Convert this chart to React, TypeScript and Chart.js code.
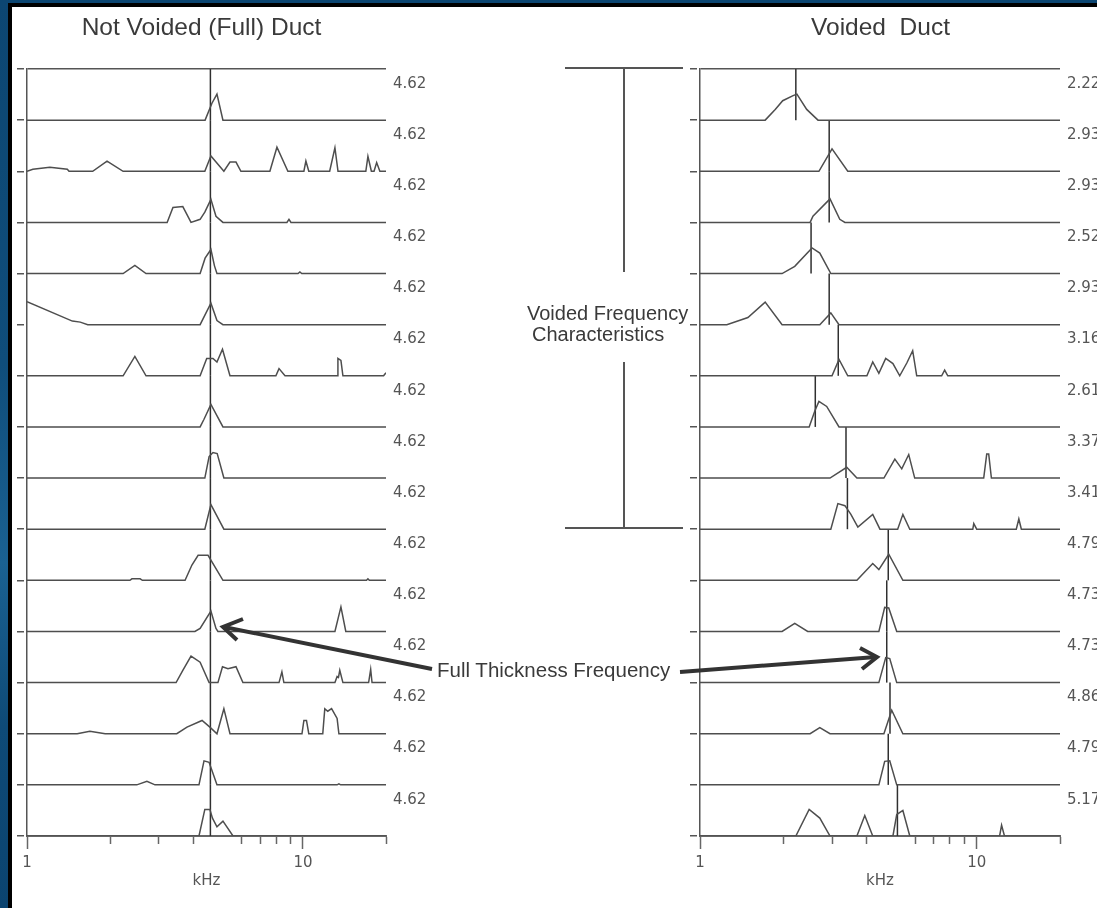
import React, { useEffect, useRef } from 'react';
import { Chart, registerables } from 'chart.js';

Chart.register(...registerables);

type Pt = [number, number];

// ---------- axis data ----------
const xMin = 1;
const xMax = 20;
const xTickValues = [1, 2, 3, 4, 6, 7, 8, 9, 10, 20];
const xMajorTicks = [1, 10];
const xTickLabels = ['1', '', '', '', '', '', '', '', '10', ''];
const xAxisTitle = 'kHz';

// ---------- Not Voided (Full) Duct: peak-frequency labels (kHz) ----------
const fullPeakLabels = ['4.62', '4.62', '4.62', '4.62', '4.62', '4.62', '4.62', '4.62', '4.62', '4.62', '4.62', '4.62', '4.62', '4.62', '4.62'];

// spectra: [frequency kHz, relative amplitude]
const full01: Pt[] = [[1, 0], [4.42, 0], [4.68, 0.33], [4.88, 0.51], [5.13, 0], [20, 0]];
const full02: Pt[] = [[1, 0], [1.05, 0.04], [1.21, 0.08], [1.4, 0.04], [1.42, 0], [1.73, 0], [1.95, 0.2], [2.23, 0], [4.41, 0], [4.64, 0.3], [5.17, 0], [5.44, 0.18], [5.72, 0.18], [5.96, 0], [7.59, 0], [8.05, 0.47], [8.82, 0], [10.08, 0], [10.25, 0.2], [10.5, 0], [12.5, 0], [13.06, 0.46], [13.4, 0], [16.9, 0], [17.2, 0.29], [17.7, 0], [18.1, 0], [18.5, 0.17], [19.0, 0], [20, 0]];
const full03: Pt[] = [[1, 0], [3.22, 0], [3.38, 0.29], [3.67, 0.31], [3.93, 0], [4.24, 0.06], [4.41, 0.2], [4.64, 0.45], [4.84, 0.12], [5.13, 0], [8.75, 0], [8.9, 0.06], [9.05, 0], [20, 0]];
const full04: Pt[] = [[1, 0], [2.23, 0], [2.46, 0.16], [2.7, 0], [4.24, 0], [4.42, 0.3], [4.64, 0.47], [4.78, 0.15], [4.88, 0], [9.6, 0], [9.75, 0.03], [9.9, 0], [20, 0]];
const full05: Pt[] = [[1, 0.45], [1.46, 0.07], [1.56, 0.05], [1.66, 0], [4.24, 0], [4.64, 0.42], [4.88, 0.08], [5.13, 0], [20, 0]];
const full06: Pt[] = [[1, 0], [2.23, 0], [2.46, 0.38], [2.7, 0], [4.24, 0], [4.48, 0.34], [4.72, 0.34], [4.88, 0.27], [5.11, 0.52], [5.44, 0], [7.98, 0], [8.19, 0.14], [8.61, 0], [13.3, 0], [13.39, 0.34], [13.73, 0.3], [13.96, 0], [19.6, 0], [20, 0.06]];
const full07: Pt[] = [[1, 0], [4.24, 0], [4.38, 0.15], [4.64, 0.44], [5.13, 0], [20, 0]];
const full08: Pt[] = [[1, 0], [4.41, 0], [4.57, 0.42], [4.72, 0.5], [4.89, 0.48], [5.17, 0], [20, 0]];
const full09: Pt[] = [[1, 0], [4.41, 0], [4.64, 0.48], [5.17, 0], [20, 0]];
const full10: Pt[] = [[1, 0], [2.36, 0], [2.4, 0.03], [2.57, 0.03], [2.62, 0], [3.74, 0], [3.96, 0.3], [4.17, 0.49], [4.53, 0.49], [5.13, 0], [17.0, 0], [17.2, 0.03], [17.4, 0], [20, 0]];
const full11: Pt[] = [[1, 0], [4.06, 0], [4.24, 0.06], [4.64, 0.4], [4.84, 0.06], [4.92, 0], [13.06, 0], [13.73, 0.48], [14.3, 0], [20, 0]];
const full12: Pt[] = [[1, 0], [3.47, 0], [3.67, 0.24], [3.93, 0.52], [4.24, 0.4], [4.57, 0], [4.92, 0], [5.11, 0.31], [5.35, 0.27], [5.72, 0.31], [6.06, 0], [8.19, 0], [8.39, 0.21], [8.53, 0], [13.06, 0], [13.3, 0.12], [13.45, 0.1], [13.6, 0.24], [13.96, 0], [17.3, 0], [17.6, 0.26], [17.8, 0], [20, 0]];
const full13: Pt[] = [[1, 0], [1.52, 0], [1.69, 0.05], [1.92, 0], [3.49, 0], [3.8, 0.13], [4.31, 0.26], [4.6, 0.13], [4.88, 0], [5.17, 0.49], [5.44, 0], [9.92, 0], [10.08, 0.26], [10.3, 0.26], [10.5, 0], [11.8, 0], [12.0, 0.49], [12.3, 0.44], [12.7, 0.49], [13.3, 0.3], [13.5, 0], [20, 0]];
const full14: Pt[] = [[1, 0], [2.5, 0], [2.72, 0.07], [2.91, 0], [4.2, 0], [4.38, 0.47], [4.57, 0.44], [4.88, 0], [13.3, 0], [13.5, 0.02], [13.7, 0], [20, 0]];
const full15: Pt[] = [[1, 0], [4.2, 0], [4.41, 0.52], [4.6, 0.52], [4.7, 0.35], [4.88, 0.18], [5.13, 0.29], [5.58, 0], [20, 0]];

// ---------- Voided Duct ----------
const voidedPeakLabels = ['2.22', '2.93', '2.93', '2.52', '2.93', '3.16', '2.61', '3.37', '3.41', '4.79', '4.73', '4.73', '4.86', '4.79', '5.17'];

const void01: Pt[] = [[1, 0], [1.72, 0], [1.87, 0.21], [1.99, 0.38], [2.17, 0.48], [2.24, 0.51], [2.43, 0.21], [2.67, 0], [20, 0]];
const void02: Pt[] = [[1, 0], [2.69, 0], [3.0, 0.44], [3.42, 0], [20, 0]];
const void03: Pt[] = [[1, 0], [2.5, 0], [2.56, 0.12], [2.95, 0.46], [3.2, 0.06], [3.34, 0], [20, 0]];
const void04: Pt[] = [[1, 0], [1.98, 0], [2.2, 0.14], [2.54, 0.5], [2.71, 0.4], [2.97, 0], [20, 0]];
const void05: Pt[] = [[1, 0], [1.25, 0], [1.49, 0.14], [1.72, 0.44], [1.98, 0], [2.71, 0], [2.97, 0.23], [3.18, 0], [20, 0]];
const void06: Pt[] = [[1, 0], [3.0, 0], [3.18, 0.32], [3.42, 0], [4.01, 0], [4.21, 0.27], [4.43, 0.05], [4.69, 0.34], [4.98, 0.24], [5.27, 0], [5.59, 0.25], [5.87, 0.49], [6.07, 0], [7.47, 0], [7.66, 0.11], [7.86, 0], [20, 0]];
const void07: Pt[] = [[1, 0], [2.48, 0], [2.6, 0.31], [2.69, 0.5], [2.87, 0.4], [3.18, 0], [20, 0]];
const void08: Pt[] = [[1, 0], [2.95, 0], [3.39, 0.21], [3.69, 0], [4.62, 0], [5.06, 0.37], [5.36, 0.18], [5.68, 0.46], [5.97, 0], [10.6, 0], [10.87, 0.47], [11.05, 0.47], [11.3, 0], [20, 0]];
const void09: Pt[] = [[1, 0], [2.97, 0], [3.15, 0.5], [3.34, 0.46], [3.51, 0.29], [3.72, 0.04], [4.21, 0.29], [4.47, 0], [5.18, 0], [5.41, 0.29], [5.73, 0], [9.68, 0], [9.76, 0.11], [10.0, 0], [13.9, 0], [14.2, 0.2], [14.5, 0], [20, 0]];
const void10: Pt[] = [[1, 0], [3.69, 0], [4.21, 0.33], [4.43, 0.21], [4.81, 0.51], [5.41, 0], [20, 0]];
const void11: Pt[] = [[1, 0], [1.98, 0], [2.2, 0.16], [2.45, 0], [4.43, 0], [4.65, 0.47], [4.81, 0.46], [5.14, 0], [20, 0]];
const void12: Pt[] = [[1, 0], [4.43, 0], [4.69, 0.49], [4.85, 0.47], [5.14, 0], [20, 0]];
const void13: Pt[] = [[1, 0], [2.5, 0], [2.71, 0.12], [2.95, 0], [4.62, 0], [4.93, 0.46], [5.41, 0], [20, 0]];
const void14: Pt[] = [[1, 0], [4.43, 0], [4.65, 0.46], [4.85, 0.47], [5.14, 0], [20, 0]];
const void15: Pt[] = [[1, 0], [2.22, 0], [2.48, 0.52], [2.71, 0.35], [2.95, 0], [3.69, 0], [3.94, 0.4], [4.21, 0], [4.98, 0], [5.14, 0.42], [5.41, 0.5], [5.73, 0], [12.1, 0], [12.3, 0.21], [12.6, 0], [20, 0]];

const fullRows = [full01, full02, full03, full04, full05, full06, full07, full08, full09, full10, full11, full12, full13, full14, full15];
const voidedRows = [void01, void02, void03, void04, void05, void06, void07, void08, void09, void10, void11, void12, void13, void14, void15];

// ---------- text ----------
const titleFull = 'Not Voided (Full) Duct';
const titleVoided = 'Voided  Duct';
const bracketText = ['Voided Frequency', 'Characteristics'];
const arrowText = 'Full Thickness Frequency';

// ---------- styles ----------
const TRACE = '#4e4e4e';
const PEAKLINE = '#303030';
const AXIS = '#666666';
const LABEL = '#555555';
const TICK_FONT = { family: 'DejaVu Sans', size: 15 };
const CANVAS_H = 908;

type ChartProps = {
  rows: Pt[][];
  peaks: string[];
  left: number;
  width: number;
  labelAxisWidth: number;
};

function FreqChart({ rows, peaks, left, width, labelAxisWidth }: ChartProps) {
  const ref = useRef<HTMLCanvasElement>(null);

  useEffect(() => {
    if (!ref.current) return;
    const n = rows.length;
    const datasets: any[] = [];
    rows.forEach((row, i) => {
      const base = n - 1 - i;
      datasets.push({
        data: row.map(([f, a]) => ({ x: f, y: base + a })),
        borderColor: TRACE,
        borderWidth: 1.5,
        pointRadius: 0,
        tension: 0,
        fill: false,
      });
    });
    peaks.forEach((p, i) => {
      const base = n - 1 - i;
      const f = parseFloat(p);
      datasets.push({
        data: [{ x: f, y: base }, { x: f, y: base + 1 }],
        borderColor: PEAKLINE,
        borderWidth: 1.5,
        pointRadius: 0,
        fill: false,
      });
    });

    const chart = new Chart(ref.current, {
      type: 'line',
      data: { datasets },
      options: {
        animation: false,
        responsive: false,
        maintainAspectRatio: false,
        events: [],
        layout: { padding: { top: 69, left: 12, right: 0, bottom: 0 } },
        plugins: {
          legend: { display: false },
          tooltip: { enabled: false },
          title: { display: false },
        },
        scales: {
          x: {
            type: 'logarithmic',
            min: xMin,
            max: xMax,
            position: 'bottom',
            afterFit: (s: any) => { s.height = 72; },
            afterBuildTicks: (s: any) => { s.ticks = xTickValues.map((v) => ({ value: v, major: xMajorTicks.includes(v) })); },
            border: { display: true, color: AXIS, width: 2 },
            grid: {
              drawOnChartArea: false,
              drawTicks: true,
              tickLength: 13,
              tickWidth: 1.5,
              tickColor: AXIS,
              tickBorderDash: (ctx: any) => (ctx.tick && xMajorTicks.includes(ctx.tick.value) ? [] : [7, 40]),
            },
            ticks: {
              autoSkip: false,
              maxRotation: 0,
              padding: 5,
              color: LABEL,
              font: TICK_FONT,
              callback: (_v: any, idx: number) => xTickLabels[idx],
            },
            title: {
              display: true,
              text: xAxisTitle,
              color: LABEL,
              font: TICK_FONT,
              padding: { top: 0, bottom: 18 },
            },
          },
          y: {
            type: 'linear',
            min: 0,
            max: n,
            position: 'left',
            afterFit: (s: any) => { s.width = 15; },
            border: { display: true, color: '#555555', width: 1.5 },
            ticks: { display: false, stepSize: 1 },
            grid: {
              drawOnChartArea: true,
              color: (ctx: any) => (ctx.tick && ctx.tick.value === n ? '#555555' : 'rgba(0,0,0,0)'),
              lineWidth: 1.5,
              drawTicks: true,
              tickLength: 10,
              tickWidth: 1.5,
              tickColor: '#555555',
              tickBorderDash: [7, 3],
            },
          },
          y2: {
            type: 'linear',
            min: 0,
            max: n,
            position: 'right',
            afterFit: (s: any) => { s.width = labelAxisWidth; },
            afterBuildTicks: (s: any) => { s.ticks = peaks.map((_p, i) => ({ value: n - 0.29 - i })); },
            border: { display: false },
            grid: { display: false, drawTicks: false },
            ticks: {
              padding: 7,
              color: LABEL,
              font: TICK_FONT,
              autoSkip: false,
              callback: (_v: any, idx: number) => peaks[idx],
            },
          },
        },
      } as any,
    });
    return () => chart.destroy();
  }, []);

  return (
    <canvas
      ref={ref}
      width={width}
      height={CANVAS_H}
      style={{ position: 'absolute', left, top: 0, width, height: CANVAS_H }}
    />
  );
}

export default function App() {
  const annFont = 'Liberation Sans, Arial, sans-serif';
  return (
    <div
      style={{
        position: 'fixed',
        left: 0,
        top: 0,
        width: 1097,
        height: 908,
        overflow: 'hidden',
        background: 'linear-gradient(to bottom, #0c4672 0%, #0f4d7b 40%, #1a6192 62%, #0e4a77 80%, #0b4470 100%)',
      }}
    >
      <div
        style={{
          position: 'absolute',
          left: 8,
          top: 3,
          right: 0,
          bottom: 0,
          background: '#ffffff',
          borderLeft: '4px solid #000',
          borderTop: '4px solid #000',
        }}
      />
      <FreqChart rows={fullRows} peaks={fullPeakLabels} left={0} width={450} labelAxisWidth={64} />
      <FreqChart rows={voidedRows} peaks={voidedPeakLabels} left={673} width={424} labelAxisWidth={37} />
      <svg
        width={1097}
        height={908}
        style={{ position: 'absolute', left: 0, top: 0, pointerEvents: 'none' }}
      >
        <text x={201.5} y={26} fontFamily={annFont} fontSize={24.5} fill="#3a3a3a" textAnchor="middle" dominantBaseline="central">{titleFull}</text>
        <text x={880.5} y={26} fontFamily={annFont} fontSize={24.5} fill="#3a3a3a" textAnchor="middle" dominantBaseline="central" style={{ whiteSpace: 'pre' }}>{titleVoided}</text>

        <g stroke="#555" strokeWidth={2} fill="none">
          <path d="M565,68 H683 M624,68 V272 M624,362 V528 M565,528 H683" />
        </g>
        <text x={527} y={313} fontFamily={annFont} fontSize={20} fill="#3a3a3a" dominantBaseline="central">{bracketText[0]}</text>
        <text x={532} y={334} fontFamily={annFont} fontSize={20} fill="#3a3a3a" dominantBaseline="central">{bracketText[1]}</text>

        <text x={437} y={669} fontFamily={annFont} fontSize={20.5} fill="#3a3a3a" dominantBaseline="central">{arrowText}</text>
        <g stroke="#333" strokeWidth={4} fill="none" strokeLinecap="butt" strokeLinejoin="miter">
          <path d="M432,669 L224,627" />
          <path d="M243,619 L223,627 L237,640" />
          <path d="M680,672 L876,657" />
          <path d="M860,648 L877,657 L862,669" />
        </g>
      </svg>
    </div>
  );
}
